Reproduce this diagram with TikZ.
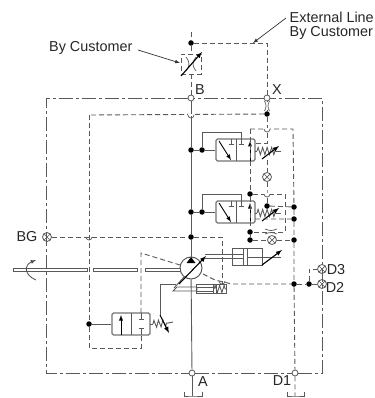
\documentclass[tikz,border=0pt]{standalone}
\usepackage{fontspec}
\setmainfont{Liberation Sans}
\usetikzlibrary{arrows,calc}
\usetikzlibrary{decorations.pathmorphing}

\tikzset{
  line/.style={draw=black!65,line width=0.9pt},
  box/.style={draw=black!55,line width=1.4pt,rounded corners=1.5pt},
  pilot/.style={draw=black!65,line width=0.9pt,dash pattern=on 5pt off 3pt},
  frame/.style={draw=black!65,line width=0.9pt,dash pattern=on 14pt off 3pt on 3pt off 3pt},
  port/.style={draw=black!65,line width=0.8pt,circle,fill=white,minimum size=6pt,inner sep=0pt},
  dot/.style={circle,fill=black,minimum size=5.5pt,inner sep=0pt},
  gauge/.style={draw=black!65,line width=0.8pt,circle,fill=white,minimum size=9pt,inner sep=0pt,
    path picture={\draw[black!65,line width=0.7pt]
      (path picture bounding box.north west) -- (path picture bounding box.south east)
      (path picture bounding box.north east) -- (path picture bounding box.south west);}},
  txt/.style={text=black!85,font=\fontsize{14.4pt}{15pt}\selectfont,inner sep=0pt},
  spring/.style={decorate,decoration={zigzag,amplitude=3.5pt,segment length=4.5pt}},
  adjust/.style={draw=black,line width=1.1pt,-latex},
}

\begin{document}
\begin{tikzpicture}[x=1pt,y=-1pt]
\useasboundingbox (0,0) rectangle (374,398);

% ports on the frame
\node (B) at (191,98) [port] {};
\node (X) at (267,98) [port] {};
\node (A) at (192,373) [port] {};
\node (D1) at (295,373) [port] {};
\node (BG) at (47,237) [gauge] {};
\node (D3) at (322,269) [gauge] {};
\node (D2) at (322,284) [gauge] {};

\node (lblExt) at (289.5,17) [txt,anchor=west] {External Line};
\node (lblExt2) at (289.5,33) [txt,anchor=west] {By Customer};
\node (lblCust) at (49,48) [txt,anchor=west] {By Customer};
\node (lblB) at (200,90) [txt] {B};
\node (lblX) at (277,90) [txt] {X};
\node (lblA) at (203,382) [txt] {A};
\node (lblD1) at (282,381) [txt] {D1};
\node (lblBG) at (27,237) [txt] {BG};
\node (lblD3) at (336,270) [txt] {D3};
\node (lblD2) at (335,287) [txt] {D2};

% frame
\coordinate (f1) at (46,98);
\coordinate (f2) at (322,98);
\coordinate (f3) at (322,373);
\coordinate (f4) at (46,373);
\draw[frame] (B) -- (f1) -- (f4) -- (A) (A) -- (D1) (D1) -- (f3) -- (f2) -- (X) (X) -- (B);

% external line
\node (top) at (191,43) [dot] {};
\coordinate (topEnd) at (191,32);
\coordinate (extCorner) at (267,43);
\node (orif) at (191,64) [draw=black!65,pilot,minimum size=20pt,inner sep=0pt] {};
\draw[pilot] (topEnd) -- (top) -- (orif) -- (B);
\draw[pilot] (top) -- (extCorner) -- (X);
\draw[black!65,line width=0.7pt] (186,57) .. controls (190,62) and (190,66) .. (186,71)
      (196,57) .. controls (192,62) and (192,66) .. (196,71);
\coordinate (adjA) at (181,76);
\coordinate (adjB) at (202,52);
\draw[adjust] (adjA) -- (adjB);
\coordinate (custA) at (138,50);
\coordinate (custB) at (180,63);
\draw[black!80,line width=0.7pt,-latex] (custA) -- (custB);
\coordinate (extA) at (286,18);
\coordinate (extB) at (253,43);
\draw[black!80,line width=0.7pt,-latex] (extA) -- (extB);

% main line
\node (pump) at (191,268) [draw=black!65,line width=1pt,circle,minimum size=22pt,inner sep=0pt,fill=white] {};
\node (j1) at (191,150) [dot] {};
\node (j2) at (191,212) [dot] {};
\node (j3) at (191,237) [dot] {};
\draw[line] (B) -- (j1) -- (j2) -- (j3) -- (pump);
\draw[line] (pump) -- (A);
\coordinate (tankA) at (192,396);
\draw[line] (A) -- (tankA);
\draw[line] (184,392) |- (tankA) -| (202,392);
\fill[black] (191,257) -- (195.5,263) -- (186.5,263) -- cycle;

% the two relief valves
\foreach \n/\dy in {u/0,l/62} {
  \begin{scope}[yshift=-\dy pt]
  \node (v\n) at (235.5,150) [box,minimum width=39pt,minimum height=22pt,inner sep=0pt] {};
  \node (t\n) at (202,150) [dot] {};
  \coordinate (c\n1) at (202,132);
  \coordinate (c\n2) at (241,132);
  \coordinate (c\n3) at (241,144);
  \draw[line] (t\n) -- (v\n.west);
  \draw[line] (t\n) -- (c\n1) -- (c\n2) -- (c\n3);
  \draw[line] (236,139) -- (236,161);
  \draw[line] (238.5,144) -- (243.5,144) (228.5,144) -- (233.5,144);
  \draw[line] (231,139) -- (231,144);
  \draw[black,line width=0.9pt,-latex] (219,141) -- (231,160);
  \draw[black,line width=0.9pt,-latex] (250,161) -- (250,141);
  \draw[line] (255,151) -- (257,151);
  \draw[line,spring] (257,151) -- (276,151);
  \draw[line] (276,151) -- (281,151);
  \draw[adjust] (262,159) -- (279,146);
  \end{scope}
}
\draw[line] (j1) -- (tu) (j2) -- (tl);

% pilot lines around the valves
\node (p1) at (267,114) [dot] {};
\coordinate (p0) at (89,115);
\coordinate (q1) at (250,129);
\coordinate (q2) at (293,129);
\coordinate (q3) at (267,143);
\coordinate (q4) at (255,143);
\node (orX) at (267,106) [minimum width=5pt,minimum height=8pt,inner sep=0pt] {};
\draw[black!65,line width=0.7pt] (264.5,101) .. controls (266.5,104) and (266.5,108) .. (264.5,111)
      (269.5,101) .. controls (267.5,104) and (267.5,108) .. (269.5,111);
\draw[line] (X) -- (orX) -- (p1);
\node (g1) at (267,177) [gauge] {};
\node (d1) at (250,194) [dot] {};
\node (d2) at (250,232) [dot] {};
\node (d3) at (250,240) [dot] {};
\node (d4) at (267,206) [dot] {};
\node (r1) at (294,207) [dot] {};
\node (r2) at (294,219) [dot] {};
\node (r3) at (294,240) [dot] {};
\node (r4) at (294,284) [dot] {};
\node (r5) at (309,284) [dot] {};
\node (g2) at (272,240) [gauge] {};
\coordinate (s1) at (285,194);
\coordinate (s2) at (285,232);
\coordinate (s3) at (255,219);
\coordinate (s4) at (267,160);
\coordinate (s5) at (267,194);
\coordinate (s6) at (309,269);
\coordinate (tankD) at (295,396);
\draw[pilot] (p1) -- (p0);
\draw[pilot] (p1) -- (q3) -- (q4);
\draw[pilot] (q1) -- (q2) -- (r1) -- (r2) -- (r3) -- (r4) -- (D1) -- (tankD);
\draw[pilot] (q1) -- (d1) -- (d2) -- (d3);
\draw[pilot] (s4) -- (g1) -- (s5) -- (d4);
\draw[pilot] (d1) -- (s1) -- (s2) -- (d2);
\draw[pilot] (d4) -- (r1) (s3) -- (r2);
\draw[pilot] (d3) -- (g2) -- (r3);
\draw[pilot] (r4) -- (r5) -- (D2);
\draw[pilot] (r5) -- (s6) -- (D3);
\draw[line] (287,392) |- (tankD) -| (304,392);
\draw[black!65,line width=0.7pt] (265,229) .. controls (270,231) and (272,231) .. (277,229)
      (265,234) .. controls (270,232) and (272,232) .. (277,234);

% crossings
\foreach \x/\y in {191/115,267/129,267/194,89/237,222/281} {
  \fill[white] (\x-3,\y-1) rectangle (\x+3,\y+1);
  \draw[black!65,line width=0.7pt] (\x-3,\y) arc (180:0:3);
}

% case drain, BG
\coordinate (bg1) at (222,237);
\coordinate (bg2) at (222,285);
\draw[pilot] (BG) -- (j3);
\draw[pilot] (j3) -- (bg1) -- (bg2);

% left pilot and small valve
\node (vs) at (131,324) [box,minimum width=38pt,minimum height=22pt,inner sep=0pt] {};
\node (vd) at (89,324) [dot] {};
\coordinate (w1) at (89,348);
\coordinate (w2) at (141,348);
\coordinate (w3) at (141,335);
\coordinate (w4) at (141,253);
\coordinate (w5) at (141,313);
\coordinate (w6) at (215,280);
\coordinate (w7) at (232,284);
\coordinate (w8) at (180,265);
\coordinate (w9) at (203,274);
\draw[pilot] (p0) -- (vd) -- (w1) -- (w2) -- (w3);
\draw[pilot] (w5) -- (w4) -- (w8) (w9) -- (w6) -- (w7) -- (r4);
\draw[line] (vd) -- (vs);
\draw[line] (131,313) -- (131,335);
\draw[black,line width=0.9pt,-latex] (121,335) -- (121,315);
\draw[line] (138.5,319) -- (143.5,319) (138.5,328) -- (143.5,328);
\draw[line] (141,313) -- (141,319) (141,328) -- (141,335);
\draw[line] (150,324) -- (153,324);
\draw[line,spring] (153,324) -- (168,323);
\draw[line] (168,323) -- (173,322);

% swash plate and control
\coordinate (sw1) at (160,284);
\coordinate (sw2) at (176,284);
\coordinate (sw3) at (160,315);
\coordinate (sw4) at (169,333);
\draw[line] (sw2) -- (sw1) -- (sw3);
\draw[adjust] (sw3) -- (sw4);
\draw[line] (173,291) -- (197,291) -- (197,287) -- (177,287) -- cycle;
\draw[line] (174,288) -- (184,277);
\draw[adjust] (179,284) -- (206,256);

% small cylinder
\node (cy) at (211,289) [draw=black!65,line width=1pt,minimum width=30pt,minimum height=9pt,inner sep=0pt] {};
\draw[line] (197,287) -- (213,287) (197,291) -- (213,291) (213,285) -- (213,293);
\draw[line,spring] (214,289) -- (226,289);
\draw[line] (216,285) -- (216,293);

% big cylinder
\node (cb) at (247,256.5) [draw=black!65,line width=1pt,minimum width=30pt,minimum height=17pt,inner sep=0pt] {};
\coordinate (rod1) at (205,254.5);
\coordinate (rod2) at (243,254.5);
\draw[line] (rod1) -- (rod2) (205,258) -- (243,258);
\draw[line] (243,248) -- (243,265) (247,248) -- (247,265);
\draw[line] (247,257) -- (281,257);
\draw[adjust] (262,265) -- (282,250);

% shaft
\foreach \a/\b in {13/87,93/137,145/180} {
  \draw[line,fill=white] (\a,268) rectangle (\b,271);
}
\coordinate (rotA) at (36,280);
\coordinate (rotB) at (36,260);
\draw[black!70,line width=0.8pt,-latex] (rotA) .. controls (24,275) and (24,265) .. (rotB);

\end{tikzpicture}
\end{document}
